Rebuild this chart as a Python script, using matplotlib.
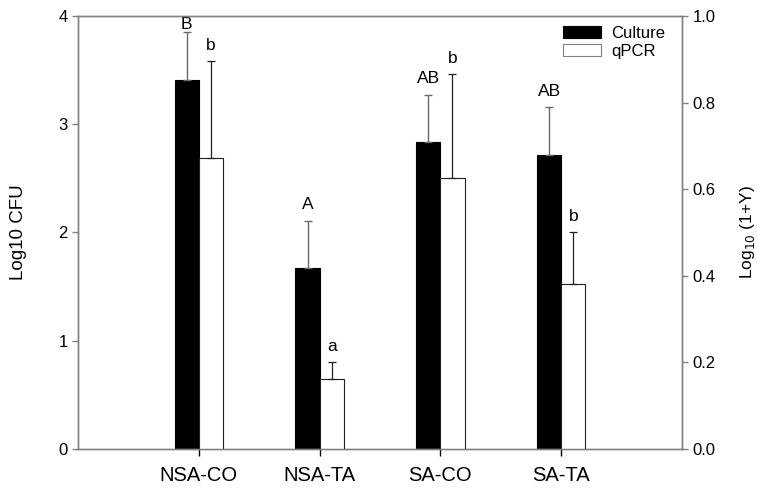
import matplotlib
matplotlib.use("Agg")
import matplotlib.pyplot as plt
import numpy as np
from matplotlib.patches import Patch

plt.rcParams['font.family'] = ['Liberation Sans', 'DejaVu Sans']

categories = ["NSA-CO", "NSA-TA", "SA-CO", "SA-TA"]
culture = [3.41, 1.67, 2.84, 2.72]
culture_err = [0.44, 0.44, 0.434, 0.437]
culture_letters = ["B", "A", "AB", "AB"]
qpcr = [0.672, 0.161, 0.626, 0.380]
qpcr_err = [0.224, 0.040, 0.239, 0.120]
qpcr_letters = ["b", "a", "b", "b"]

GRAY = '#808080'
fig = plt.figure(figsize=(7.57, 4.90), dpi=100)
ax = fig.add_axes([78/757, 1-449/490, (682-78)/757, (449-16)/490])
ax2 = ax.twinx()

x = np.arange(1, len(categories) + 1)
w = 0.2

ax.bar(x - w/2, culture, width=w, color='black', edgecolor='black', linewidth=0.8, zorder=2)
ax.errorbar(x - w/2, culture, yerr=[np.zeros(len(culture)), culture_err], fmt='none',
            ecolor='#6a6a6a', elinewidth=1.0, capsize=3.0, capthick=1.0, zorder=3)
ax2.bar(x + w/2, qpcr, width=w, color='white', edgecolor='#202020', linewidth=0.8, zorder=2)
ax2.errorbar(x + w/2, qpcr, yerr=[np.zeros(len(qpcr)), qpcr_err], fmt='none',
             ecolor='#202020', elinewidth=0.9, capsize=3.0, capthick=0.9, zorder=3)

ax.set_xlim(0, 5)
ax.set_ylim(0, 4)
ax2.set_ylim(0, 1.0)
ax.set_yticks([0, 1, 2, 3, 4])
ax2.set_yticks([0.0, 0.2, 0.4, 0.6, 0.8, 1.0])
ax2.set_yticklabels(["%.1f" % v for v in [0.0, 0.2, 0.4, 0.6, 0.8, 1.0]])
ax.set_xticks(x)
ax.set_xticklabels(categories, fontsize=14.5)

for a in (ax, ax2):
    for s in a.spines.values():
        s.set_color(GRAY)
        s.set_linewidth(1.0)
ax.tick_params(axis='y', direction='out', length=4.5, width=1.0, color=GRAY, labelsize=12, pad=3)
ax2.tick_params(axis='y', direction='out', length=4.5, width=1.0, color=GRAY, labelsize=12, pad=3)
ax.tick_params(axis='x', direction='out', length=5, width=1.0, color='black', pad=7)

ax.set_ylabel("Log10 CFU", fontsize=13.5)
ax.yaxis.set_label_coords(-0.085, 0.5)
ax2.set_ylabel("Log$_{10}$ (1+Y)", fontsize=12.5, rotation=90)
ax2.yaxis.set_label_coords(1.092, 0.5)

for xi, v, e, lab in zip(x, culture, culture_err, culture_letters):
    top = v + e
    off = 0.5 if top > 3.8 else 6.0
    ax.annotate(lab, (xi - w/2, top), xytext=(0, off), textcoords='offset points',
                ha='center', va='bottom', fontsize=12.5, zorder=5)
for xi, v, e, lab in zip(x, qpcr, qpcr_err, qpcr_letters):
    ax2.annotate(lab, (xi + w/2, v + e), xytext=(0, 6.0), textcoords='offset points',
                 ha='center', va='bottom', fontsize=12.5, zorder=5)

handles = [Patch(facecolor='black', edgecolor='black', linewidth=0.8, label='Culture'),
           Patch(facecolor='white', edgecolor=GRAY, linewidth=0.8, label='qPCR')]
ax2.legend(handles=handles, loc='upper right', bbox_to_anchor=(0.972, 0.978), frameon=False,
           fontsize=12, handlelength=2.3, handleheight=0.75, handletextpad=0.6,
           labelspacing=0.2, borderpad=0, borderaxespad=0)

fig.savefig("out.png", dpi=100)
